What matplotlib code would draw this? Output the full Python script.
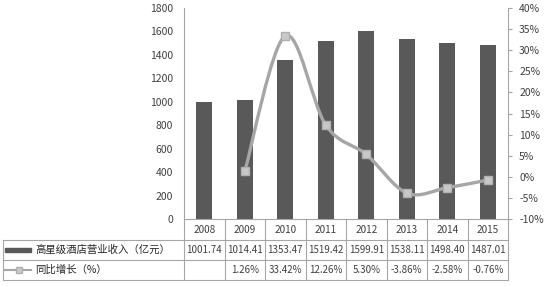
import matplotlib
matplotlib.use('Agg')
import matplotlib.pyplot as plt
from matplotlib.path import Path
from matplotlib.patches import PathPatch, Rectangle
from matplotlib.lines import Line2D
import matplotlib.transforms as mtransforms

plt.rcParams['font.family'] = ['Noto Sans CJK SC', 'DejaVu Sans']

# data
years = ['2008', '2009', '2010', '2011', '2012', '2013', '2014', '2015']
revenue = [1001.74, 1014.41, 1353.47, 1519.42, 1599.91, 1538.11, 1498.40, 1487.01]
growth = [None, 1.26, 33.42, 12.26, 5.30, -3.86, -2.58, -0.76]
revenue_labels = ['1001.74', '1014.41', '1353.47', '1519.42', '1599.91', '1538.11', '1498.40', '1487.01']
growth_labels = ['', '1.26%', '33.42%', '12.26%', '5.30%', '-3.86%', '-2.58%', '-0.76%']
row_names = ['高星级酒店营业收入（亿元）', '同比增长（%）']

W, H = 546, 286
bar_color = '#595959'
line_color = '#a6a6a6'
grid_color = '#a6a6a6'
text_color = '#404040'

fig = plt.figure(figsize=(W / 100, H / 100), dpi=100)
# pixel overlay for the table
ov = fig.add_axes([0, 0, 1, 1])
ov.set_xlim(0, W)
ov.set_ylim(H, 0)
ov.axis('off')

left, right, top, bottom = 184, 508, 8, 219
ax = fig.add_axes([left / W, 1 - bottom / H, (right - left) / W, (bottom - top) / H])
ax.patch.set_alpha(0)

x = list(range(len(years)))
ax.bar(x, revenue, width=0.4, color=bar_color, zorder=2)
ax.set_xlim(-0.5, len(years) - 0.5)
ax.set_ylim(0, 1800)
ax.set_yticks(range(0, 1801, 200))
ax.set_xticks([])
ax.tick_params(axis='y', length=0, pad=8, labelsize=7.5, labelcolor=text_color)
for s in ['top', 'right']:
    ax.spines[s].set_visible(False)
ax.spines['left'].set_color(grid_color)
ax.spines['bottom'].set_color(grid_color)

ax2 = ax.twinx()
ax2.set_ylim(-10, 40)
ax2.set_yticks(range(-10, 41, 5))
ax2.set_yticklabels([f'{v}%' for v in range(-10, 41, 5)])
ax2.tick_params(axis='y', length=3, pad=5, labelsize=7.5, labelcolor=text_color, color=grid_color)
for s in ['top', 'left', 'bottom']:
    ax2.spines[s].set_visible(False)
ax2.spines['right'].set_color(grid_color)

# smoothed line (Catmull-Rom as bezier curves)
pts = [(i, g) for i, g in enumerate(growth) if g is not None]
verts = [pts[0]]
codes = [Path.MOVETO]
for i in range(len(pts) - 1):
    p0 = pts[i - 1] if i > 0 else pts[i]
    p1 = pts[i]
    p2 = pts[i + 1]
    p3 = pts[i + 2] if i + 2 < len(pts) else pts[i + 1]
    c1 = (p1[0] + (p2[0] - p0[0]) / 6, p1[1] + (p2[1] - p0[1]) / 6)
    c2 = (p2[0] - (p3[0] - p1[0]) / 6, p2[1] - (p3[1] - p1[1]) / 6)
    verts += [c1, c2, p2]
    codes += [Path.CURVE4] * 3
ax2.add_patch(PathPatch(Path(verts, codes), fill=False, edgecolor=line_color, lw=2.4, zorder=3))
ax2.plot([p[0] for p in pts], [p[1] for p in pts], ls='none', marker='s', ms=6,
         mfc='#c8c8c8', mec='#b0b0b0', zorder=4)

# table below the chart
tr = mtransforms.blended_transform_factory(ax.transData, ov.transData)
edges = [i - 0.5 for i in range(len(years) + 1)]
for e in edges:
    ov.add_line(Line2D([e, e], [bottom, 280], transform=tr, color=grid_color, lw=0.8))
ov.add_line(Line2D([3, 3], [240, 280], color=grid_color, lw=0.8))
for yy in [240, 260, 280]:
    ov.add_line(Line2D([3, right], [yy, yy], color=grid_color, lw=0.8))

for i in x:
    ov.text(i, 230, years[i], transform=tr, ha='center', va='center', fontsize=7.2, color=text_color)
    ov.text(i, 250, revenue_labels[i], transform=tr, ha='center', va='center', fontsize=7, color=text_color)
    ov.text(i, 270, growth_labels[i], transform=tr, ha='center', va='center', fontsize=7, color=text_color)

ov.add_patch(Rectangle((5, 248), 26, 4, color=bar_color))
ov.add_line(Line2D([5, 31], [270, 270], color=line_color, lw=1.5))
ov.plot([19], [270], marker='s', ms=4, mfc='#c8c8c8', mec='#b0b0b0')
ov.text(35, 250, row_names[0], ha='left', va='center', fontsize=7.5, color='#262626')
ov.text(35, 270, row_names[1], ha='left', va='center', fontsize=7.5, color='#262626')

fig.savefig('out.png', dpi=100)
